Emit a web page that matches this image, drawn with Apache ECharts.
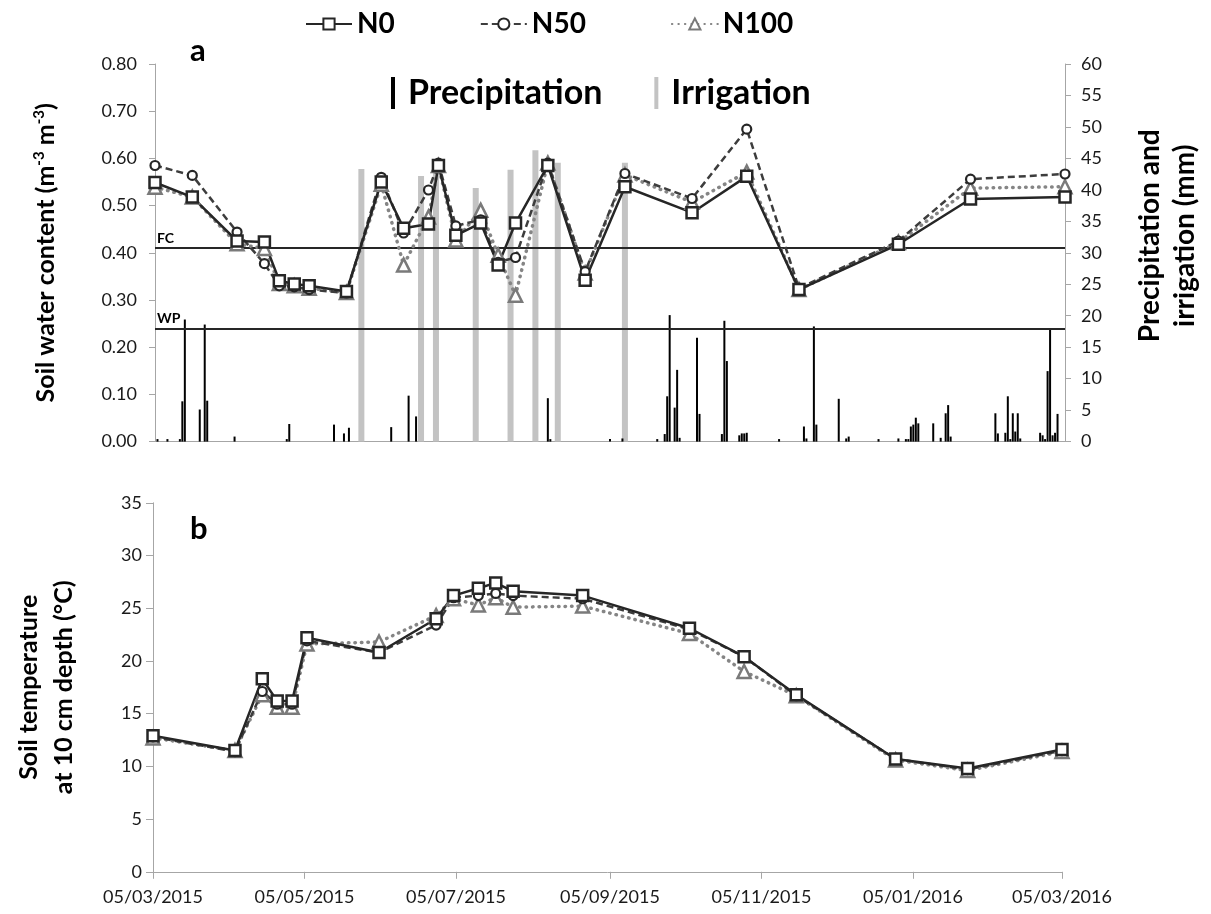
<!DOCTYPE html>
<html><head><meta charset="utf-8">
<script src="https://cdn.jsdelivr.net/npm/echarts@6/dist/echarts.min.js"></script>
<style>html,body{margin:0;padding:0;background:#fff}#c{width:1211px;height:914px}</style>
</head><body><div id="c"></div>
<script>
// ---------- DATA ----------
const swcDates = ['2015-03-05','2015-03-20','2015-04-07','2015-04-18','2015-04-24','2015-04-30','2015-05-06','2015-05-21','2015-06-04','2015-06-13','2015-06-23','2015-06-27','2015-07-04','2015-07-14','2015-07-21','2015-07-28','2015-08-10','2015-08-25','2015-09-10','2015-10-07','2015-10-29','2015-11-19','2015-12-29','2016-01-27','2016-03-05'];
const swcN0   = [0.549,0.518,0.425,0.423,0.341,0.334,0.330,0.318,0.550,0.452,0.461,0.585,0.437,0.463,0.374,0.463,0.585,0.342,0.540,0.485,0.562,0.322,0.418,0.514,0.518];
const swcN50  = [0.585,0.564,0.444,0.377,0.330,0.328,0.322,0.315,0.560,0.442,0.533,0.590,0.457,0.470,0.380,0.390,0.590,0.360,0.568,0.515,0.662,0.325,0.425,0.556,0.567];
const swcN100 = [0.539,0.518,0.419,0.409,0.335,0.330,0.325,0.316,0.545,0.374,0.476,0.585,0.427,0.490,0.395,0.310,0.590,0.357,0.565,0.507,0.571,0.322,0.422,0.537,0.540];

const tempDates = ['2015-03-05','2015-04-07','2015-04-18','2015-04-24','2015-04-30','2015-05-06','2015-06-04','2015-06-27','2015-07-04','2015-07-14','2015-07-21','2015-07-28','2015-08-25','2015-10-07','2015-10-29','2015-11-19','2015-12-29','2016-01-27','2016-03-05'];
const tempN0   = [12.9,11.5,18.3,16.2,16.2,22.2,20.8,24.0,26.2,26.9,27.4,26.6,26.2,23.1,20.4,16.8,10.7,9.8,11.6];
const tempN50  = [12.8,11.4,17.1,15.9,15.9,21.9,20.8,23.4,26.0,26.2,26.4,26.2,25.9,23.0,20.4,16.7,10.7,9.7,11.5];
const tempN100 = [12.7,11.5,16.8,15.6,15.6,21.6,21.8,24.3,25.9,25.3,26.0,25.1,25.2,22.6,19.0,16.7,10.6,9.6,11.4];

const precipDates = ['2015-03-06','2015-03-10','2015-03-15','2015-03-16','2015-03-17','2015-03-23','2015-03-25','2015-03-26','2015-04-06','2015-04-27','2015-04-28','2015-05-16','2015-05-20','2015-05-22','2015-06-08','2015-06-15','2015-06-18','2015-08-10','2015-08-11','2015-09-04','2015-09-09','2015-09-23','2015-09-26','2015-09-27','2015-09-28','2015-09-30','2015-10-01','2015-10-02','2015-10-09','2015-10-10','2015-10-19','2015-10-20','2015-10-21','2015-10-26','2015-10-27','2015-10-28','2015-10-29','2015-11-11','2015-11-21','2015-11-22','2015-11-25','2015-11-26','2015-12-05','2015-12-08','2015-12-09','2015-12-21','2015-12-29','2016-01-01','2016-01-02','2016-01-03','2016-01-04','2016-01-05','2016-01-06','2016-01-12','2016-01-15','2016-01-17','2016-01-18','2016-01-19','2016-02-06','2016-02-07','2016-02-10','2016-02-11','2016-02-12','2016-02-13','2016-02-14','2016-02-15','2016-02-16','2016-02-24','2016-02-25','2016-02-26','2016-02-27','2016-02-28','2016-02-29','2016-03-01','2016-03-02'];
const precipMm = [0.4,0.4,0.4,6.4,19.4,5.1,18.6,6.5,0.8,0.4,2.8,2.7,1.3,2.2,2.3,7.3,4.0,6.9,0.4,0.4,0.5,0.4,1.2,7.2,20.1,5.4,11.4,0.6,16.5,4.4,1.2,19.2,12.8,1.0,1.3,1.3,1.4,0.4,2.4,0.5,18.3,2.7,6.8,0.5,0.8,0.4,0.5,0.4,0.4,2.4,2.7,3.8,2.9,2.9,0.6,4.5,5.8,0.8,4.5,1.3,1.4,7.2,0.4,4.5,1.6,4.5,0.5,1.4,1.0,0.4,11.2,17.8,1.0,1.4,4.4];

const irrigDates = ['2015-05-27','2015-06-20','2015-06-26','2015-07-12','2015-07-26','2015-08-05','2015-08-14','2015-09-10'];
const irrigMm = [43.3,42.2,44.0,40.3,43.2,46.3,44.3,44.3];

const tickDates = ['2015-03-05','2015-05-05','2015-07-05','2015-09-05','2015-11-05','2016-01-05','2016-03-05'];
const fcValue = 0.41, wpValue = 0.24;

// ---------- HELPERS ----------
function ts(s){const a=s.split('-').map(Number);return new Date(a[0],a[1]-1,a[2]).getTime();}
function pairs(d,v){return d.map((x,i)=>[ts(x),v[i]]);}
function fmt(v){const d=new Date(v);const p=n=>String(n).padStart(2,'0');return p(d.getDate())+'/'+p(d.getMonth()+1)+'/'+d.getFullYear();}
const F = 'Lato, "Open Sans", sans-serif';
const xMin = ts(tickDates[0]), xMax = ts(tickDates[tickDates.length-1]);
const tickTs = tickDates.map(ts);
const AX = '#a6a6a6', TXT = '#1a1a1a';

const st = {
  N0:  {line:{color:'#262626',width:2.5,type:'solid'}, symbol:'rect', size:11, item:{color:'#fff',borderColor:'#262626',borderWidth:2.5}},
  N50: {line:{color:'#3d3d3d',width:2.5,type:[7,4]}, symbol:'circle', size:9, item:{color:'#fff',borderColor:'#262626',borderWidth:2.2}},
  N100:{line:{color:'#858585',width:3.5,type:[0.5,6],cap:'round'}, symbol:'triangle', size:13, item:{color:'#fff',borderColor:'#7a7a7a',borderWidth:2.5}}
};
function lineSeries(name, xi, yi, data, extra){
  const s = st[name];
  return Object.assign({name, type:'line', xAxisIndex:xi, yAxisIndex:yi, data, symbol:s.symbol, symbolSize:s.size,
    showAllSymbol:true, lineStyle:s.line, itemStyle:Object.assign({},s.item), color:s.line.color, z:5}, extra||{});
}
const fcwp = {markLine:{silent:true, symbol:'none', lineStyle:{color:'#262626', width:2, type:'solid'},
  label:{position:'insideStartTop', fontFamily:F, fontSize:14, fontWeight:'bold', color:'#000', distance:[2,3]},
  data:[{yAxis:fcValue, label:{formatter:'FC'}},{yAxis:wpValue, label:{formatter:'WP'}}]}};

const chart = echarts.init(document.getElementById('c'), null, {renderer:'canvas'});
chart.setOption({
  animation:false,
  backgroundColor:'#fff',
  textStyle:{fontFamily:F},
  legend:[
    {data:['N0','N50','N100'], left:300, top:5, itemWidth:46, itemHeight:14, itemGap:85,
     textStyle:{fontFamily:F, fontSize:28, fontWeight:'bold', color:'#000'}},
    {data:['Precipitation','Irrigation'], left:386, top:71, icon:'rect', itemWidth:4, itemHeight:32, itemGap:52,
     textStyle:{fontFamily:F, fontSize:34, fontWeight:'bold', color:'#000', padding:[0,0,0,8]}}
  ],
  grid:[
    {left:155, top:64, width:910, height:377.6},
    {left:153, top:502.8, width:909, height:369}
  ],
  xAxis:[
    {type:'value', gridIndex:0, min:xMin, max:xMax, axisLine:{lineStyle:{color:AX}}, axisTick:{show:false}, axisLabel:{show:false}, splitLine:{show:false}},
    {type:'value', gridIndex:1, min:xMin, max:xMax, axisLine:{lineStyle:{color:AX}},
     axisTick:{show:true, length:7, lineStyle:{color:AX}, customValues:tickTs},
     axisLabel:{customValues:tickTs, formatter:fmt, fontSize:18, color:TXT, margin:16, fontFamily:F, hideOverlap:false, showMinLabel:true, showMaxLabel:true},
     splitLine:{show:false}},
    {type:'value', gridIndex:0, min:xMin, max:xMax, show:false}
  ],
  yAxis:[
    {type:'value', gridIndex:0, position:'left', min:0, max:0.8, interval:0.1,
     axisLine:{show:true, lineStyle:{color:AX}}, axisTick:{show:true, length:6, lineStyle:{color:AX}},
     axisLabel:{formatter:v=>v.toFixed(2), fontSize:18, color:TXT, margin:18, fontFamily:F}, splitLine:{show:false},
     name:'{t|Soil water content (m}{s|-3}{t| m}{s|-3}{t|)}', nameLocation:'middle', nameRotate:90, nameGap:95,
     nameTextStyle:{rich:{
       t:{fontFamily:F, fontSize:25, fontWeight:'bold', color:'#000', lineHeight:28},
       s:{fontFamily:F, fontSize:15, fontWeight:'bold', color:'#000', verticalAlign:'top', lineHeight:15}}}},
    {type:'value', gridIndex:0, position:'right', min:0, max:60, interval:5,
     axisLine:{show:true, lineStyle:{color:AX}}, axisTick:{show:true, length:6, lineStyle:{color:AX}},
     axisLabel:{fontSize:18, color:TXT, margin:16, fontFamily:F}, splitLine:{show:false},
     name:'Precipitation and\nirrigation (mm)', nameLocation:'middle', nameRotate:90, nameGap:67,
     nameTextStyle:{fontFamily:F, fontSize:28, fontWeight:'bold', color:'#000', lineHeight:35, padding:[0,0,0,34]}},
    {type:'value', gridIndex:1, min:0, max:35, interval:5,
     axisLine:{show:true, lineStyle:{color:AX}}, axisTick:{show:true, length:7, lineStyle:{color:AX}},
     axisLabel:{fontSize:18, color:TXT, margin:11, fontFamily:F}, splitLine:{show:false},
     name:'Soil temperature\nat 10 cm depth (°C)', nameLocation:'middle', nameRotate:90, nameGap:72,
     nameTextStyle:{fontFamily:F, fontSize:25, fontWeight:'bold', color:'#000', lineHeight:35}}
  ],
  graphic:[
    {type:'text', left:190, top:35, style:{text:'a', fontFamily:F, fontSize:31, fontWeight:'bold', fill:'#000'}},
    {type:'text', left:190, top:513, style:{text:'b', fontFamily:F, fontSize:31, fontWeight:'bold', fill:'#000'}}
  ],
  series:[
    {name:'Irrigation', type:'bar', xAxisIndex:2, yAxisIndex:1, data:pairs(irrigDates, irrigMm), barWidth:6,
     itemStyle:{color:'#c3c3c3'}, color:'#c3c3c3', z:2},
    {name:'Precipitation', type:'bar', xAxisIndex:0, yAxisIndex:1, data:pairs(precipDates, precipMm), barWidth:2,
     itemStyle:{color:'#000'}, color:'#000', z:3},
    lineSeries('N100',0,0,pairs(swcDates, swcN100), fcwp),
    lineSeries('N50',0,0,pairs(swcDates, swcN50)),
    lineSeries('N0',0,0,pairs(swcDates, swcN0)),
    lineSeries('N100',1,2,pairs(tempDates, tempN100)),
    lineSeries('N50',1,2,pairs(tempDates, tempN50)),
    lineSeries('N0',1,2,pairs(tempDates, tempN0))
  ]
});
</script></body></html>
